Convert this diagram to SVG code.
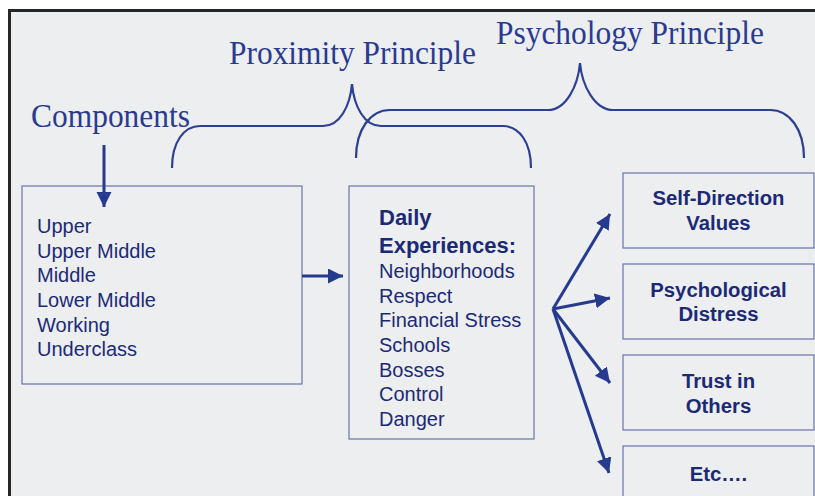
<svg xmlns="http://www.w3.org/2000/svg" width="815" height="496" viewBox="0 0 815 496">
<defs>
<marker id="ah" markerUnits="userSpaceOnUse" markerWidth="16" markerHeight="16" viewBox="0 0 16 16" refX="15" refY="7.5" orient="auto">
<path d="M0,0 L15,7.5 L0,15 z" fill="#263a8e"/>
</marker>
<style>
.title{font-family:"Liberation Serif","Times New Roman",serif;font-size:34px;fill:#2a3b8f}
.box{fill:none;stroke:#6b76a6;stroke-width:1.2}
.txt{font-family:"Liberation Sans",Arial,sans-serif;font-size:20px;fill:#1c2a76}
.bold{font-family:"Liberation Sans",Arial,sans-serif;font-size:20.3px;font-weight:bold;fill:#1c2a76;text-anchor:middle}
.head{font-family:"Liberation Sans",Arial,sans-serif;font-size:22px;font-weight:bold;fill:#1c2a76}
.conn{fill:none;stroke:#263a8e;stroke-width:3}
.brace{fill:none;stroke:#2d3f91;stroke-width:2.2}
</style>
</defs>
<rect x="0" y="0" width="815" height="496" fill="#ffffff"/>
<rect x="9" y="10" width="806" height="486" fill="#eceef0"/>
<path d="M9.5,496 L9.5,10.5 L815,10.5" fill="none" stroke="#262626" stroke-width="3"/>

<g id="labels">
<text class="title" x="31" y="127" textLength="159" lengthAdjust="spacingAndGlyphs">Components</text>
<text class="title" x="229" y="64" textLength="247" lengthAdjust="spacingAndGlyphs">Proximity Principle</text>
<text class="title" x="496" y="44" textLength="268" lengthAdjust="spacingAndGlyphs">Psychology Principle</text>
</g>

<g id="braces">
<path class="brace" d="M172,168 C172,142 184,126 200,126 L323,126 C340,126 350,106 352,84 C354,106 364,126 381,126 L503,126 C519,126 531,142 531,168"/>
<path class="brace" d="M356,158 C356,130 370,110 390,110 L548,110 C566,110 578,86 580,63 C582,86 595,110 613,110 L770,110 C790,110 804,130 804,158"/>
</g>

<g id="node-classes">
<rect class="box" x="22" y="186" width="280" height="198"/>
<text class="txt" x="37" y="233">Upper</text>
<text class="txt" x="37" y="258">Upper Middle</text>
<text class="txt" x="37" y="282">Middle</text>
<text class="txt" x="37" y="307">Lower Middle</text>
<text class="txt" x="37" y="332">Working</text>
<text class="txt" x="37" y="356">Underclass</text>
</g>

<g id="node-experiences">
<rect class="box" x="349" y="186" width="185" height="253"/>
<text class="head" x="379" y="225">Daily</text>
<text class="head" x="379" y="253">Experiences:</text>
<text class="txt" x="379" y="278">Neighborhoods</text>
<text class="txt" x="379" y="303">Respect</text>
<text class="txt" x="379" y="327">Financial Stress</text>
<text class="txt" x="379" y="352">Schools</text>
<text class="txt" x="379" y="377">Bosses</text>
<text class="txt" x="379" y="401">Control</text>
<text class="txt" x="379" y="426">Danger</text>
</g>

<g id="node-selfdirection">
<rect class="box" x="623" y="173" width="191" height="75"/>
<text class="bold" x="718.5" y="205">Self-Direction</text>
<text class="bold" x="718.5" y="230">Values</text>
</g>
<g id="node-distress">
<rect class="box" x="623" y="264" width="191" height="75"/>
<text class="bold" x="718.5" y="297">Psychological</text>
<text class="bold" x="718.5" y="321">Distress</text>
</g>
<g id="node-trust">
<rect class="box" x="623" y="355" width="191" height="75"/>
<text class="bold" x="718.5" y="388">Trust in</text>
<text class="bold" x="718.5" y="413">Others</text>
</g>
<g id="node-etc">
<rect class="box" x="623" y="446" width="191" height="60"/>
<text class="bold" x="718.5" y="481">Etc….</text>
</g>

<g id="connectors">
<line class="conn" x1="104" y1="145" x2="104" y2="207" marker-end="url(#ah)"/>
<line class="conn" x1="302" y1="276" x2="343" y2="276" marker-end="url(#ah)"/>
<line class="conn" x1="553" y1="309" x2="610" y2="214" marker-end="url(#ah)"/>
<line class="conn" x1="553" y1="309" x2="610" y2="298" marker-end="url(#ah)"/>
<line class="conn" x1="553" y1="309" x2="610" y2="383" marker-end="url(#ah)"/>
<line class="conn" x1="553" y1="309" x2="609" y2="473" marker-end="url(#ah)"/>
</g>
</svg>
